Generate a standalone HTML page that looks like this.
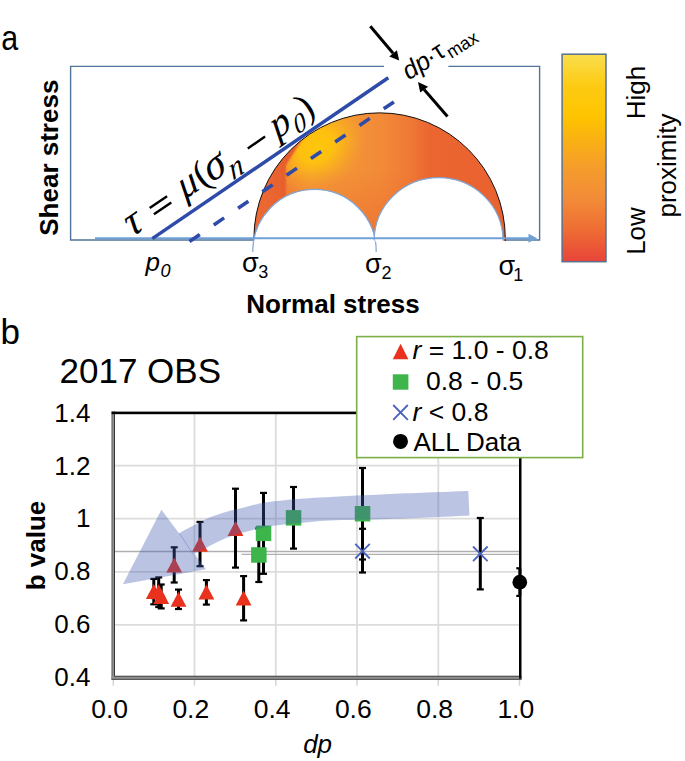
<!DOCTYPE html>
<html><head><meta charset="utf-8">
<style>
html,body{margin:0;padding:0;background:#fff;width:685px;height:761px;overflow:hidden}
svg{display:block}
text{font-family:"Liberation Sans",sans-serif}
.serif{font-family:"Liberation Serif",serif}
</style></head>
<body>
<svg width="685" height="761" viewBox="0 0 685 761">
<defs>
  <radialGradient id="mohr" gradientUnits="userSpaceOnUse" cx="355" cy="150" r="80" fx="318" fy="143">
    <stop offset="0" stop-color="#FFC608"/>
    <stop offset="0.25" stop-color="#FCB818"/>
    <stop offset="0.55" stop-color="#F4913A"/>
    <stop offset="0.8" stop-color="#EE7434"/>
    <stop offset="1" stop-color="#E8622F"/>
  </radialGradient>
  <linearGradient id="cbar" x1="0" y1="0" x2="0" y2="1">
    <stop offset="0" stop-color="#F9DE4E"/>
    <stop offset="0.15" stop-color="#FDCB14"/>
    <stop offset="0.3" stop-color="#FFC400"/>
    <stop offset="0.42" stop-color="#F9B014"/>
    <stop offset="0.55" stop-color="#F59C2C"/>
    <stop offset="0.7" stop-color="#F28B38"/>
    <stop offset="0.85" stop-color="#EE6C33"/>
    <stop offset="1" stop-color="#E8443A"/>
  </linearGradient>
  <linearGradient id="mbase" gradientUnits="userSpaceOnUse" x1="254" y1="0" x2="505" y2="0">
    <stop offset="0" stop-color="#E9622F"/>
    <stop offset="0.1175" stop-color="#EA6630"/>
    <stop offset="0.1315" stop-color="#F08636"/>
    <stop offset="0.2231" stop-color="#F4983A"/>
    <stop offset="0.3426" stop-color="#F39436"/>
    <stop offset="0.5100" stop-color="#F28A38"/>
    <stop offset="0.6175" stop-color="#EF7A35"/>
    <stop offset="0.7012" stop-color="#EB6631"/>
    <stop offset="1" stop-color="#E9612F"/>
  </linearGradient>
  <radialGradient id="mblob" gradientUnits="userSpaceOnUse" cx="0" cy="0" r="1" gradientTransform="translate(317,147) rotate(-34) scale(54,42)">
    <stop offset="0" stop-color="#FFC60A" stop-opacity="1"/>
    <stop offset="0.35" stop-color="#FFC40C" stop-opacity="0.9"/>
    <stop offset="0.7" stop-color="#FBB818" stop-opacity="0.4"/>
    <stop offset="1" stop-color="#F8AA26" stop-opacity="0"/>
  </radialGradient>
  <linearGradient id="mred" gradientUnits="userSpaceOnUse" x1="254" y1="0" x2="286" y2="0">
    <stop offset="0" stop-color="#EB6A32"/>
    <stop offset="0.8" stop-color="#E9632F"/>
    <stop offset="1" stop-color="#E55B2C"/>
  </linearGradient>
  <linearGradient id="mvert" gradientUnits="userSpaceOnUse" x1="0" y1="170" x2="0" y2="240"><stop offset="0" stop-color="#EA6430" stop-opacity="0"/><stop offset="1" stop-color="#EA6430" stop-opacity="0.6"/></linearGradient>
  <filter id="soft" x="-20%" y="-20%" width="140%" height="140%"><feGaussianBlur stdDeviation="1.3"/></filter>
  <clipPath id="mohrclip"><path d="M253.9,240.8 L253.9,238.5 A125.7,125.7 0 0 1 505.3,238.5 L505.3,240.8 Z"/></clipPath>
  <clipPath id="aboveAx"><rect x="0" y="0" width="685" height="252"/></clipPath>
</defs>

<!-- ============ PANEL A ============ -->
<text transform="translate(2.2,50.3) scale(0.87,1)" x="-1" y="0" font-size="35">a</text>

<!-- box -->
<path d="M384,66.4 H70.6 V240 H539.6 V66.4 H448.4" fill="none" stroke="#51739A" stroke-width="1.4"/>

<!-- Mohr circle -->
<g clip-path="url(#mohrclip)">
  <rect x="250" y="105" width="260" height="137" fill="url(#mbase)"/>
  <path d="M286,242 L286,165.5 L300.5,141 L320,112 L320,100 L420,100 L420,242 Z" fill="url(#mblob)"/>
  <rect x="250" y="160" width="260" height="82" fill="url(#mvert)"/>
  <path d="M240,250 L285.3,250 L285.3,165.5 L301.5,140.5 L321,112 L321,90 L240,90 Z" fill="url(#mred)" filter="url(#soft)"/>
</g>
<path d="M253.9,240.8 L253.9,238.5 A125.7,125.7 0 0 1 505.3,238.5 L505.3,240.8" fill="none" stroke="#111" stroke-width="1"/>
<g clip-path="url(#aboveAx)">
  <circle cx="314.5" cy="251.1" r="61.7" fill="#fff" stroke="#7FA8D8" stroke-width="1.2"/>
</g>
<rect x="375.5" y="238" width="128" height="4" fill="#fff"/>
<path d="M374.2,240.5 A64.4,62.8 0 0 1 503,240.5" fill="#fff" stroke="#7FA8D8" stroke-width="1.2"/>

<!-- normal stress axis -->
<line x1="95" y1="238.2" x2="530" y2="238.2" stroke="#6FA0D6" stroke-width="2"/>
<path d="M528.5,233.7 L537.2,238.2 L528.5,242.7 Z" fill="#6FA0D6"/>

<!-- failure lines -->
<line x1="152.3" y1="238.6" x2="388.3" y2="77.7" stroke="#2F4BA9" stroke-width="3.5"/>
<line x1="189.5" y1="241.5" x2="393.9" y2="101.9" stroke="#2F4BA9" stroke-width="3.6" stroke-dasharray="12.5 16.9"/>

<!-- equation -->
<g transform="translate(135.7,231.9) rotate(-34.3)" fill="#000" stroke="#000" stroke-width="0.05">
  <text class="serif" x="2" y="2.5" font-size="42" font-style="italic" text-anchor="middle" transform="skewX(-6)">τ</text>
  <text class="serif" x="68.5" y="1" font-size="39" font-style="italic" text-anchor="middle" transform="skewX(-6)">μ</text>
  <text class="serif" x="100.8" y="2.5" font-size="43" font-style="italic" text-anchor="middle" transform="skewX(-8)">σ</text>
  <text class="serif" x="120" y="12.5" font-size="30" font-style="italic" text-anchor="middle" transform="skewX(-14)">n</text>
  <text class="serif" x="179.5" y="3.5" font-size="39" font-style="italic" text-anchor="middle" transform="skewX(-6)">p</text>
  <text class="serif" x="197.5" y="11" font-size="26" font-style="italic" text-anchor="middle" transform="skewX(-12)">0</text>
  <text class="serif" x="86.4" y="1.5" font-size="38" text-anchor="middle">(</text>
  <text class="serif" x="210.5" y="4" font-size="38" text-anchor="middle">)</text>
  <rect x="25" y="-13" width="21" height="2.4" stroke="none"/>
  <rect x="25" y="-5.5" width="21" height="2.4" stroke="none"/>
  <rect x="139.6" y="-7" width="21" height="2.4" stroke="none"/>
</g>

<!-- dp tau max arrows -->
<line x1="370.3" y1="26.2" x2="393.1" y2="53.3" stroke="#000" stroke-width="3"/>
<path d="M389.3,56.5 L399.2,60.4 L396.9,50.2 Z" fill="#000"/>
<line x1="447.5" y1="116.4" x2="424.1" y2="89.6" stroke="#000" stroke-width="3"/>
<path d="M420.2,92.4 L418,81.9 L428.1,86.8 Z" fill="#000"/>
<g transform="translate(408.8,80.6) rotate(-32.5)">
  <text x="0" y="0" font-size="25.5" font-style="italic">dp</text>
  <text x="27" y="0" font-size="25.5">·</text>
  <text x="35.5" y="-0.8" font-size="25.5">τ</text>
  <text x="47.3" y="4.6" font-size="18">max</text>
</g>

<!-- axis labels -->
<text transform="translate(58.3,157.7) rotate(-90)" text-anchor="middle" font-size="26" font-weight="bold">Shear stress</text>
<text x="333" y="312.6" text-anchor="middle" font-size="26" font-weight="bold">Normal stress</text>

<text x="145.5" y="270.6" font-size="26" font-style="italic">p</text>
<text x="160.5" y="277.3" font-size="18" font-style="italic">0</text>
<text x="242" y="272.3" font-size="27">σ</text><text x="258.3" y="278" font-size="18">3</text>
<text x="365" y="273" font-size="27">σ</text><text x="381.5" y="278.7" font-size="18">2</text>
<text x="498.4" y="274.8" font-size="27">σ</text><text x="513.3" y="280.5" font-size="18">1</text>

<!-- colorbar -->
<rect x="562.1" y="54.2" width="43.9" height="207.5" fill="url(#cbar)" stroke="#5B7090" stroke-width="1.5"/>
<text transform="translate(645,92.5) rotate(-90)" text-anchor="middle" font-size="26">High</text>
<text transform="translate(645.3,231) rotate(-90)" text-anchor="middle" font-size="26">Low</text>
<text transform="translate(675.7,165.5) rotate(-90)" text-anchor="middle" font-size="26">proximity</text>

<!-- ============ PANEL B ============ -->
<text x="0.4" y="343.5" font-size="35">b</text>
<text x="59.5" y="383" font-size="35">2017 OBS</text>

<!-- gridlines -->
<g stroke="#DCDCDC" stroke-width="1.8">
<line x1="114" y1="465.6" x2="519" y2="465.6"/>
<line x1="114" y1="518.7" x2="519" y2="518.7"/>
<line x1="114" y1="571.8" x2="519" y2="571.8"/>
<line x1="114" y1="624.9" x2="519" y2="624.9"/>
<line x1="194.5" y1="413" x2="194.5" y2="676"/>
<line x1="275.8" y1="413" x2="275.8" y2="676"/>
<line x1="357.0" y1="413" x2="357.0" y2="676"/>
<line x1="438.3" y1="413" x2="438.3" y2="676"/>
</g>
<g stroke="#D4D4D4" stroke-width="1.5">
<line x1="113.3" y1="679" x2="113.3" y2="685.7"/>
<line x1="194.5" y1="679" x2="194.5" y2="685.7"/>
<line x1="275.8" y1="679" x2="275.8" y2="685.7"/>
<line x1="357.0" y1="679" x2="357.0" y2="685.7"/>
<line x1="438.3" y1="679" x2="438.3" y2="685.7"/>
<line x1="519.5" y1="679" x2="519.5" y2="685.7"/>
</g>
<line x1="113.5" y1="551.5" x2="519" y2="551.5" stroke="#AFAFAF" stroke-width="1.3"/>
<line x1="241.5" y1="554.4" x2="519" y2="554.4" stroke="#AFAFAF" stroke-width="1.3"/>
<g fill="#000">
<rect x="152.3" y="578.9" width="3" height="25.4"/><rect x="150.3" y="577.8" width="7" height="2.2"/><rect x="150.3" y="603.2" width="7" height="2.2"/>
<rect x="157.2" y="577.4" width="3" height="29.6"/><rect x="155.2" y="576.3" width="7" height="2.2"/><rect x="155.2" y="605.9" width="7" height="2.2"/>
<rect x="159.7" y="584.5" width="3" height="23.9"/><rect x="157.7" y="583.4" width="7" height="2.2"/><rect x="157.7" y="607.3" width="7" height="2.2"/>
<rect x="172.7" y="547.3" width="3" height="35.2"/><rect x="170.7" y="546.2" width="7" height="2.2"/><rect x="170.7" y="581.4" width="7" height="2.2"/>
<rect x="177.0" y="589.6" width="3" height="19.4"/><rect x="175.0" y="588.5" width="7" height="2.2"/><rect x="175.0" y="607.9" width="7" height="2.2"/>
<rect x="198.5" y="521.9" width="3" height="44.3"/><rect x="196.5" y="520.8" width="7" height="2.2"/><rect x="196.5" y="565.1" width="7" height="2.2"/>
<rect x="204.9" y="580.1" width="3" height="24.5"/><rect x="202.9" y="579.0" width="7" height="2.2"/><rect x="202.9" y="603.5" width="7" height="2.2"/>
<rect x="234.0" y="488.7" width="3" height="78.9"/><rect x="232.0" y="487.6" width="7" height="2.2"/><rect x="232.0" y="566.5" width="7" height="2.2"/>
<rect x="242.1" y="576.1" width="3" height="44.3"/><rect x="240.1" y="575.0" width="7" height="2.2"/><rect x="240.1" y="619.3" width="7" height="2.2"/>
<rect x="257.3" y="528.4" width="3" height="53.6"/><rect x="255.3" y="527.3" width="7" height="2.2"/><rect x="255.3" y="580.9" width="7" height="2.2"/>
<rect x="262.0" y="492.9" width="3" height="80.9"/><rect x="260.0" y="491.8" width="7" height="2.2"/><rect x="260.0" y="572.7" width="7" height="2.2"/>
<rect x="292.0" y="487.0" width="3" height="61.6"/><rect x="290.0" y="485.9" width="7" height="2.2"/><rect x="290.0" y="547.5" width="7" height="2.2"/>
<rect x="361.0" y="468.0" width="3" height="91.5"/><rect x="359.0" y="466.9" width="7" height="2.2"/><rect x="359.0" y="558.4" width="7" height="2.2"/>
<rect x="361.0" y="528.8" width="3" height="43.7"/><rect x="359.0" y="527.7" width="7" height="2.2"/><rect x="359.0" y="571.4" width="7" height="2.2"/>
<rect x="478.8" y="518.0" width="3" height="71.4"/><rect x="476.8" y="516.9" width="7" height="2.2"/><rect x="476.8" y="588.3" width="7" height="2.2"/>
<rect x="518.3" y="568.3" width="3" height="27.6"/><rect x="516.3" y="567.2" width="3.5" height="2.2"/><rect x="516.3" y="594.8" width="3.5" height="2.2"/>
</g>
<g fill="#E8321E">
<path d="M153.8,584.0 L161.7,599.0 L145.9,599.0 Z"/>
<path d="M158.7,584.3 L166.6,599.3 L150.8,599.3 Z"/>
<path d="M161.2,589.0 L169.1,604.0 L153.3,604.0 Z"/>
<path d="M174.2,557.4 L182.1,572.4 L166.3,572.4 Z"/>
<path d="M178.5,591.7 L186.4,606.7 L170.6,606.7 Z"/>
<path d="M200.0,536.7 L207.9,551.7 L192.1,551.7 Z"/>
<path d="M206.4,584.6 L214.3,599.6 L198.5,599.6 Z"/>
<path d="M235.5,521.0 L243.4,536.0 L227.6,536.0 Z"/>
<path d="M243.6,590.5 L251.5,605.5 L235.7,605.5 Z"/>
</g>
<g fill="#3DB54A">
<rect x="251.1" y="547.2" width="15.5" height="15.5"/>
<rect x="255.8" y="525.6" width="15.5" height="15.5"/>
<rect x="285.8" y="510.1" width="15.5" height="15.5"/>
<rect x="354.8" y="506.0" width="15.5" height="15.5"/>
</g>
<g stroke="#4A63C0" stroke-width="1.8" fill="none">
<path d="M355.2,543.9 L369.8,558.5 M369.8,543.9 L355.2,558.5"/>
<path d="M473.0,546.5 L487.6,561.1 M487.6,546.5 L473.0,561.1"/>
</g>
<circle cx="519.8" cy="582.2" r="7.35" fill="#000"/>
<g opacity="0.36" fill="rgb(66,91,175)"><path d="M161.4,509.7 L206,569.3 L122.9,584.3 Z"/><path d="M176.0,535.5 C176.6,535.1 176.9,534.6 179.7,533.0 C182.4,531.4 187.4,528.6 192.5,526.0 C197.6,523.4 204.2,519.7 210.0,517.3 C215.8,514.9 221.8,513.1 227.6,511.4 C233.4,509.7 239.0,508.8 245.0,507.3 C251.0,505.9 256.4,503.9 263.4,502.7 C270.4,501.5 277.4,500.8 286.8,499.9 C296.2,499.0 302.8,498.6 320.0,497.6 C337.2,496.6 365.3,495.1 390.0,494.0 C414.7,492.9 455.2,491.5 468.3,491.0 L469.5,515.5 C456.2,516.1 413.2,518.2 390.0,519.0 C366.8,519.8 345.2,519.8 330.0,520.5 C314.8,521.2 307.6,522.4 298.5,523.2 C289.4,524.0 282.4,524.5 275.1,525.5 C267.9,526.5 261.0,528.1 255.0,529.5 C249.0,530.9 244.8,531.9 239.2,533.6 C233.6,535.4 227.4,537.5 221.7,540.0 C216.0,542.5 209.5,546.1 204.8,548.4 C200.1,550.7 196.6,552.3 193.5,553.8 C190.4,555.3 187.2,556.9 186.0,557.5 Z"/></g>
<line x1="179.4" y1="533.5" x2="193.4" y2="554.6" stroke="rgb(70,95,190)" stroke-opacity="0.45" stroke-width="0.8"/>
<rect x="111.6" y="411.6" width="3.4" height="268.2" fill="#909090"/>
<rect x="111.6" y="411.6" width="1" height="268.2" fill="#6a6a6a"/>
<rect x="114" y="411.6" width="1" height="265" fill="#333"/>
<rect x="111.6" y="675.8" width="410" height="4" fill="#909090"/>
<rect x="114" y="675.8" width="406" height="1" fill="#4a4a4a"/>
<rect x="111.6" y="678.8" width="410" height="1" fill="#4a4a4a"/>
<rect x="111.6" y="411.6" width="409.9" height="2.6" fill="#000"/>
<rect x="519" y="411.6" width="2.5" height="267" fill="#000"/>
<text x="90.5" y="421.7" font-size="26" text-anchor="end">1.4</text>
<text x="90.5" y="474.8" font-size="26" text-anchor="end">1.2</text>
<text x="90.5" y="527.4" font-size="26" text-anchor="end">1</text>
<text x="90.5" y="579.8" font-size="26" text-anchor="end">0.8</text>
<text x="90.5" y="633.1" font-size="26" text-anchor="end">0.6</text>
<text x="90.5" y="686.2" font-size="26" text-anchor="end">0.4</text>
<text x="109.6" y="718" font-size="26.5" text-anchor="middle">0.0</text>
<text x="190.8" y="718" font-size="26.5" text-anchor="middle">0.2</text>
<text x="272.1" y="718" font-size="26.5" text-anchor="middle">0.4</text>
<text x="353.3" y="718" font-size="26.5" text-anchor="middle">0.6</text>
<text x="434.6" y="718" font-size="26.5" text-anchor="middle">0.8</text>
<text x="515.8" y="718" font-size="26.5" text-anchor="middle">1.0</text>
<text x="317.6" y="752.8" font-size="26" font-style="italic" text-anchor="middle">dp</text>
<text transform="translate(45,545.5) rotate(-90)" font-size="26" font-weight="bold" text-anchor="middle">b value</text>
<rect x="356.7" y="336.6" width="226" height="121" fill="#fff" stroke="#7BAF48" stroke-width="1.6"/>
<path d="M400.6,343.7 L408.4,359.3 L392.8,359.3 Z" fill="#E8321E"/>
<rect x="392.8" y="374.3" width="15.6" height="15.4" fill="#3DB54A"/>
<path d="M393.2,405 L407.8,419.8 M407.8,405 L393.2,419.8" stroke="#4A63C0" stroke-width="1.8"/>
<circle cx="400.5" cy="441.4" r="7.5" fill="#000"/>
<text x="412.5" y="359.1" font-size="26.5"><tspan font-style="italic">r</tspan> = 1.0 - 0.8</text>
<text x="426" y="390" font-size="26.5">0.8 - 0.5</text>
<text x="412.5" y="420.7" font-size="26.5"><tspan font-style="italic">r</tspan> &lt; 0.8</text>
<text x="413.5" y="451.4" font-size="26">ALL Data</text>
</svg>
</body></html>
